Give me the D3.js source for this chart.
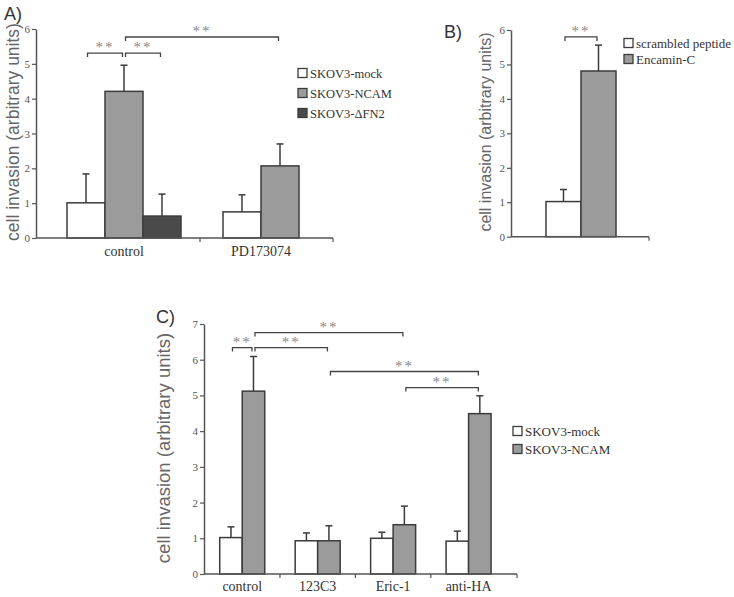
<!DOCTYPE html>
<html>
<head>
<meta charset="utf-8">
<script src="https://cdn.jsdelivr.net/npm/d3@7/dist/d3.min.js"></script>
<style>
  html, body { margin: 0; padding: 0; background: #fff; }
  svg { display: block; }
</style>
</head>
<body>
<svg id="chart" width="734" height="597"></svg>
<script>
// ---------- DATA ----------
// Panel A
const aCategories = ["control", "PD173074"];
const aSeries = ["SKOV3-mock", "SKOV3-NCAM", "SKOV3-\u0394FN2"];
const aMock = [1.01, 0.75];
const aMockErr = [0.83, 0.49];
const aNcam = [4.21, 2.07];
const aNcamErr = [0.75, 0.63];
const aDfn2 = [0.63, null];
const aDfn2Err = [0.63, null];
const aYTicks = [0, 1, 2, 3, 4, 5, 6];
// significance brackets: [category, series index] -> [category, series index], level (data units)
const aBrackets = [
  { from: ["control", 0], to: ["control", 1], level: 5.31, label: "**" },
  { from: ["control", 1], to: ["control", 2], level: 5.31, label: "**" },
  { from: ["control", 1], to: ["PD173074", 1], level: 5.77, label: "**" }
];

// Panel B
const bCategories = [""];
const bSeries = ["scrambled peptide", "Encamin-C"];
const bScrambled = [1.02];
const bScrambledErr = [0.35];
const bEncamin = [4.81];
const bEncaminErr = [0.75];
const bYTicks = [0, 1, 2, 3, 4, 5, 6];
const bBrackets = [
  { from: ["", 0], to: ["", 1], level: 5.8, label: "**" }
];

// Panel C
const cCategories = ["control", "123C3", "Eric-1", "anti-HA"];
const cSeries = ["SKOV3-mock", "SKOV3-NCAM"];
const cMock = [1.02, 0.93, 1.0, 0.92];
const cMockErr = [0.30, 0.22, 0.17, 0.28];
const cNcam = [5.12, 0.93, 1.38, 4.49];
const cNcamErr = [0.97, 0.42, 0.52, 0.50];
const cYTicks = [0, 1, 2, 3, 4, 5, 6, 7];
const cBrackets = [
  { from: ["control", 0], to: ["control", 1], level: 6.34, label: "**" },
  { from: ["control", 1], to: ["123C3", 1], level: 6.34, label: "**" },
  { from: ["control", 1], to: ["Eric-1", 1], level: 6.76, label: "**" },
  { from: ["123C3", 1], to: ["anti-HA", 1], level: 5.67, label: "**" },
  { from: ["Eric-1", 1], to: ["anti-HA", 1], level: 5.22, label: "**" }
];

const yLabelText = "cell invasion (arbitrary units)";
const fills = ["#ffffff", "#9b9b9b", "#4a4a4a"];

// ---------- DRAW ----------
const svg = d3.select("#chart");
const SERIF = "'Liberation Serif', 'Times New Roman', serif";
const SANS = "'Liberation Sans', Arial, sans-serif";
const AX = "#555";
const BORDER = "#3c3c3c";

function panel(cfg) {
  const g = svg.append("g");
  const y = d3.scaleLinear().domain([0, cfg.yMax]).range([cfg.y0, cfg.yTop]);
  const x = d3.scaleBand().domain(cfg.categories).range(cfg.xRange).padding(0);

  // bars
  const bw = cfg.barWidth;
  const barPos = {}; // key cat|si -> center x
  cfg.categories.forEach((cat, ci) => {
    const present = cfg.series.map((s, si) => si).filter(si => cfg.values[si][ci] != null);
    const c = x(cat) + x.bandwidth() / 2;
    const inner = d3.scaleBand().domain(present)
      .range([c - present.length * bw / 2, c + present.length * bw / 2]).padding(0);
    present.forEach(si => {
      const v = cfg.values[si][ci];
      const e = cfg.errors[si][ci];
      const x0 = inner(si);
      barPos[cat + "|" + si] = x0 + bw / 2;
      // error bar
      const xc = x0 + bw / 2;
      g.append("line").attr("x1", xc).attr("x2", xc)
        .attr("y1", y(v)).attr("y2", y(v + e))
        .attr("stroke", BORDER).attr("stroke-width", 1.5);
      g.append("line").attr("x1", xc - 3.5).attr("x2", xc + 3.5)
        .attr("y1", y(v + e)).attr("y2", y(v + e))
        .attr("stroke", BORDER).attr("stroke-width", 1.5);
      g.append("rect")
        .attr("x", x0).attr("y", y(v))
        .attr("width", bw).attr("height", y(0) - y(v))
        .attr("fill", fills[si]).attr("stroke", BORDER).attr("stroke-width", 1.5);
    });
  });

  // y axis
  const yAxis = d3.axisLeft(y).tickValues(cfg.yTicks).tickSize(4).tickSizeOuter(0)
    .tickPadding(2).tickFormat(d3.format("d"));
  const ya = g.append("g").attr("transform", `translate(${cfg.axisX},0)`).call(yAxis);
  ya.select(".domain").attr("stroke", AX).attr("stroke-width", 1.5);
  ya.selectAll(".tick line").attr("stroke", AX).attr("stroke-width", 1.2);
  ya.selectAll(".tick text").attr("font-family", SERIF).attr("font-size", 11)
    .attr("fill", "#555");

  // x axis line + ticks
  g.append("line").attr("x1", cfg.axisX).attr("x2", cfg.xEnd)
    .attr("y1", y(0)).attr("y2", y(0)).attr("stroke", AX).attr("stroke-width", 1.5);
  const xTicks = cfg.categories.slice(1).map(c => x(c)).concat([cfg.xEnd]);
  (cfg.xTickOverride || xTicks).forEach(t => {
    g.append("line").attr("x1", t).attr("x2", t).attr("y1", y(0)).attr("y2", y(0) + 4)
      .attr("stroke", AX).attr("stroke-width", 1.2);
  });
  cfg.categories.forEach(cat => {
    if (!cat) return;
    g.append("text").attr("x", x(cat) + x.bandwidth() / 2).attr("y", y(0) + cfg.xLabelDy)
      .attr("text-anchor", "middle").attr("font-family", SERIF).attr("font-size", 14)
      .attr("fill", "#333").text(cat);
  });

  // brackets
  cfg.brackets.forEach(b => {
    let xa = barPos[b.from[0] + "|" + b.from[1]];
    let xb = barPos[b.to[0] + "|" + b.to[1]];
    xa += 1.5; xb -= 1.5;
    const yy = y(b.level);
    g.append("path")
      .attr("d", `M${xa},${yy + 4}V${yy}H${xb}V${yy + 4}`)
      .attr("fill", "none").attr("stroke", "#444").attr("stroke-width", 1.3);
    g.append("text").attr("x", (xa + xb) / 2).attr("y", yy - 1)
      .attr("text-anchor", "middle").attr("font-family", SERIF).attr("font-size", 15)
      .attr("letter-spacing", 2)
      .attr("fill", "#888").text(b.label);
  });

  // legend
  cfg.series.forEach((s, si) => {
    const ly = cfg.legend.y + si * cfg.legend.dy;
    g.append("rect").attr("x", cfg.legend.x).attr("y", ly - 4.5)
      .attr("width", 9).attr("height", 9)
      .attr("fill", fills[si]).attr("stroke", BORDER).attr("stroke-width", 1.3);
    g.append("text").attr("x", cfg.legend.x + 12).attr("y", ly + 4.5)
      .attr("font-family", SERIF).attr("font-size", cfg.legend.fs)
      .attr("fill", "#333").text(s);
  });

  // y label
  g.append("text")
    .attr("transform", `translate(${cfg.yLabel.x},${cfg.yLabel.y}) rotate(-90)`)
    .attr("text-anchor", "middle").attr("dominant-baseline", "central")
    .attr("font-family", SANS).attr("font-size", cfg.yLabel.fs)
    .attr("fill", "#666").text(yLabelText);

  // panel label
  g.append("text").attr("x", cfg.tag.x).attr("y", cfg.tag.y)
    .attr("font-family", SANS).attr("font-size", 18).attr("fill", "#333").text(cfg.tag.t);
}

panel({
  categories: aCategories, series: aSeries,
  values: [aMock, aNcam, aDfn2], errors: [aMockErr, aNcamErr, aDfn2Err],
  yMax: 6, yTicks: aYTicks, y0: 238, yTop: 29,
  axisX: 36, xEnd: 333, xRange: [55.5, 329.5], barWidth: 38,
  xTickOverride: [200, 333], xLabelDy: 18,
  brackets: aBrackets,
  legend: { x: 298, y: 73, dy: 20, fs: 12.5 },
  yLabel: { x: 13, y: 132, fs: 17.5 },
  tag: { x: 4, y: 20, t: "A)" }
});

panel({
  categories: bCategories, series: bSeries,
  values: [bScrambled, bEncamin], errors: [bScrambledErr, bEncaminErr],
  yMax: 6, yTicks: bYTicks, y0: 236.7, yTop: 30,
  axisX: 511, xEnd: 649, xRange: [511, 651], barWidth: 35,
  xTickOverride: [649], xLabelDy: 18,
  brackets: bBrackets,
  legend: { x: 624, y: 43, dy: 16, fs: 13 },
  yLabel: { x: 485, y: 132, fs: 16 },
  tag: { x: 444, y: 38, t: "B)" }
});

panel({
  categories: cCategories, series: cSeries,
  values: [cMock, cNcam], errors: [cMockErr, cNcamErr],
  yMax: 7, yTicks: cYTicks, y0: 574, yTop: 324,
  axisX: 204, xEnd: 517, xRange: [204.5, 506.3], barWidth: 22.5,
  xLabelDy: 17,
  brackets: cBrackets,
  legend: { x: 513, y: 431, dy: 18, fs: 13 },
  yLabel: { x: 163, y: 448, fs: 18.5 },
  tag: { x: 156, y: 323, t: "C)" }
});
</script>
</body>
</html>
